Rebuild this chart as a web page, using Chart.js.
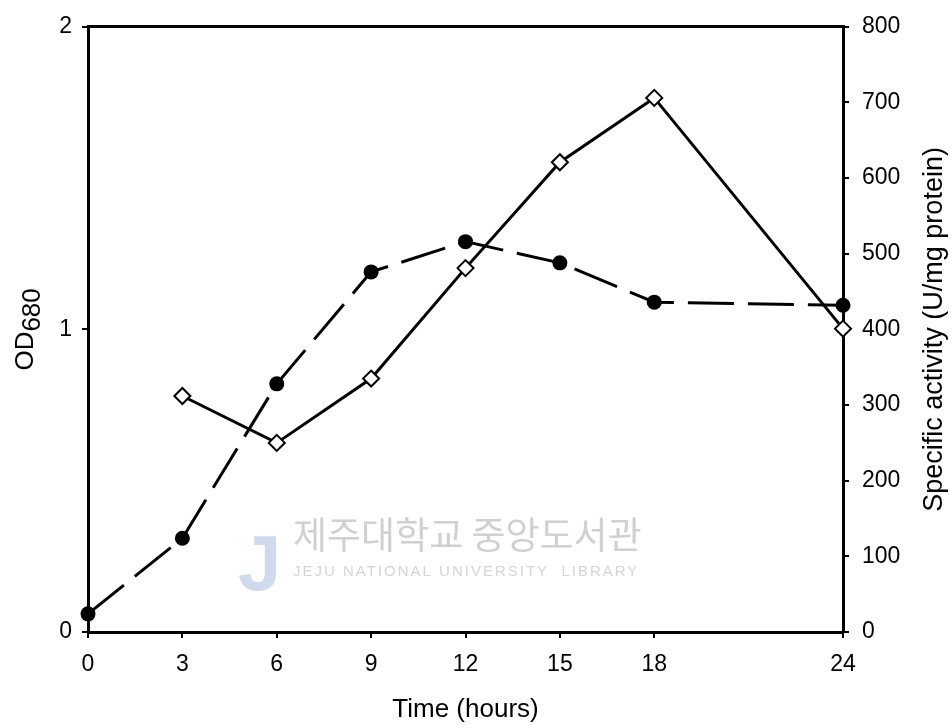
<!DOCTYPE html>
<html>
<head>
<meta charset="utf-8">
<script src="https://cdn.jsdelivr.net/npm/chart.js@4"></script>
<style>
  body { margin: 0; background: #fff; }
  canvas { display: block; }
</style>
</head>
<body>
<canvas id="chart" width="952" height="725"></canvas>
<script>
// Growth (OD680) and specific activity over time
const hours = [0, 3, 6, 9, 12, 15, 18, 24];
const od680 = [0.06, 0.31, 0.82, 1.19, 1.29, 1.22, 1.09, 1.08];

const activityHours = [3, 6, 9, 12, 15, 18, 24];
const activity = [312, 250, 335, 481, 621, 706, 401];

const xTicks = [0, 3, 6, 9, 12, 15, 18, 24];

const FONT = 'Liberation Sans, Arial, sans-serif';

// y titles read bottom-to-top (both sides) and OD has a subscript, so draw them here
const extrasPlugin = {
  id: 'extras',
  beforeDatasetsDraw(chart) {
    const ctx = chart.ctx;
    ctx.save();
    // library watermark
    ctx.fillStyle = 'rgba(120,150,205,0.35)';
    ctx.font = 'bold 78px ' + FONT;
    ctx.textBaseline = 'alphabetic';
    ctx.fillText('J', 238, 590);
    ctx.fillStyle = 'rgba(150,150,150,0.45)';
    ctx.font = '37px "Noto Sans CJK KR"';
    ctx.textBaseline = 'middle';
    ctx.fillText('제주대학교 중앙도서관', 293, 535);
    ctx.font = '15px ' + FONT;
    ctx.letterSpacing = '2px';
    ctx.fillStyle = 'rgba(160,160,160,0.45)';
    ctx.fillText('JEJU NATIONAL UNIVERSITY  LIBRARY', 293, 572);
    ctx.restore();
  },
  afterDraw(chart) {
    const ctx = chart.ctx;
    const area = chart.chartArea;
    const midY = (area.top + area.bottom) / 2;
    ctx.save();
    ctx.fillStyle = '#000';
    ctx.textBaseline = 'middle';

    // left: OD680
    ctx.save();
    ctx.translate(26, midY);
    ctx.rotate(-Math.PI / 2);
    ctx.font = '26px ' + FONT;
    const wOD = ctx.measureText('OD').width;
    const wSub = ctx.measureText('680').width;
    const start = -(wOD + wSub) / 2;
    ctx.textAlign = 'left';
    ctx.fillText('OD', start, 0);
    ctx.fillText('680', start + wOD, 7);
    ctx.restore();

    // right: Specific activity
    ctx.save();
    ctx.translate(935, midY);
    ctx.rotate(-Math.PI / 2);
    ctx.font = '27px ' + FONT;
    ctx.textAlign = 'center';
    ctx.fillText('Specific activity (U/mg protein)', 0, 0);
    ctx.restore();

    ctx.restore();
  }
};

const tickGrid = {
  display: true,
  drawOnChartArea: false,
  drawTicks: true,
  tickLength: 6,
  color: '#000',
  lineWidth: 2
};
const axisBorder = { display: true, color: '#000', width: 3 };

new Chart(document.getElementById('chart'), {
  type: 'line',
  data: {
    datasets: [
      {
        label: 'OD680',
        data: hours.map((h, i) => ({ x: h, y: od680[i] })),
        yAxisID: 'y',
        borderColor: '#000',
        borderWidth: 3,
        borderDash: [46, 14],
        pointStyle: 'circle',
        pointRadius: 7.5,
        pointBackgroundColor: '#000',
        pointBorderWidth: 0,
        tension: 0,
        clip: false
      },
      {
        label: 'Specific activity',
        data: activityHours.map((h, i) => ({ x: h, y: activity[i] })),
        yAxisID: 'y1',
        borderColor: '#000',
        borderWidth: 3,
        pointStyle: 'rectRot',
        pointRadius: 8,
        pointBackgroundColor: '#fff',
        pointBorderColor: '#000',
        pointBorderWidth: 2,
        tension: 0,
        clip: false
      }
    ]
  },
  options: {
    responsive: false,
    animation: false,
    devicePixelRatio: 1,
    layout: { padding: 0 },
    plugins: {
      legend: { display: false },
      tooltip: { enabled: false }
    },
    scales: {
      x: {
        type: 'linear',
        position: 'bottom',
        min: 0,
        max: 24,
        afterBuildTicks: axis => { axis.ticks = xTicks.map(v => ({ value: v })); },
        afterFit: s => { s.height = 93; },
        grid: tickGrid,
        border: axisBorder,
        ticks: {
          autoSkip: false,
          maxRotation: 0,
          color: '#000',
          padding: 13,
          font: { family: FONT, size: 23 }
        },
        title: {
          display: true,
          text: 'Time (hours)',
          color: '#000',
          font: { family: FONT, size: 26 },
          padding: { top: 0, bottom: 0 }
        }
      },
      x2: {
        type: 'linear',
        position: 'top',
        min: 0,
        max: 24,
        afterFit: s => { s.height = 22; },
        grid: { display: true, drawOnChartArea: false, drawTicks: false },
        border: axisBorder,
        ticks: { display: false }
      },
      y: {
        position: 'left',
        min: 0,
        max: 2,
        afterFit: s => { s.width = 88; },
        grid: tickGrid,
        border: axisBorder,
        ticks: {
          stepSize: 1,
          color: '#000',
          padding: 10,
          font: { family: FONT, size: 23 }
        }
      },
      y1: {
        position: 'right',
        min: 0,
        max: 800,
        afterFit: s => { s.width = 109; },
        grid: tickGrid,
        border: axisBorder,
        ticks: {
          stepSize: 100,
          color: '#000',
          padding: 13,
          font: { family: FONT, size: 23 }
        }
      }
    }
  },
  plugins: [extrasPlugin]
});
</script>
</body>
</html>
